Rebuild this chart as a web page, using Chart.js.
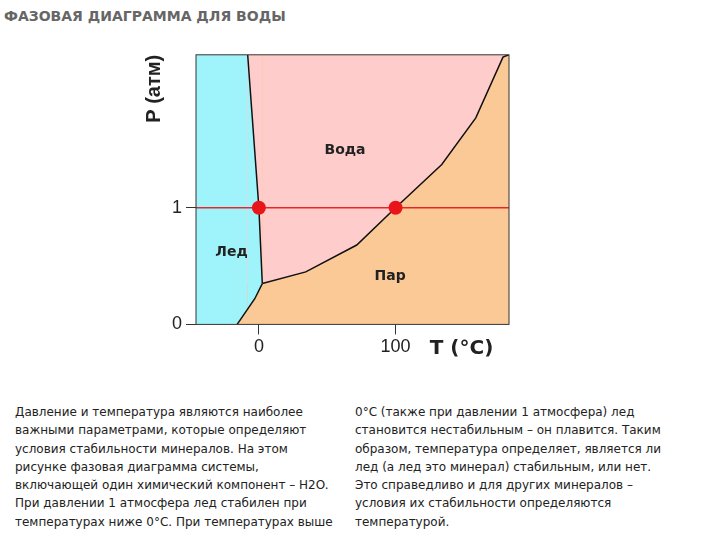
<!DOCTYPE html>
<html lang="ru">
<head>
<meta charset="UTF-8" />
<script src="https://cdn.jsdelivr.net/npm/chart.js@4.4.0/dist/chart.umd.min.js"></script>
<style>
  body { margin: 0; width: 720px; height: 540px; background: #fff; font-family: "DejaVu Sans", sans-serif; position: relative; overflow: hidden; }
  h1 { position: absolute; left: 4px; top: 8px; margin: 0; font-size: 14px; color: #666; font-weight: bold; }
  #wrap { position: absolute; left: 140px; top: 40px; width: 390px; height: 320px; }
  .col { position: absolute; top: 403px; font-size: 12px; line-height: 18.3px; color: #222; white-space: nowrap; }
</style>
</head>
<body>
<h1>ФАЗОВАЯ ДИАГРАММА ДЛЯ ВОДЫ</h1>
<div id="wrap"><canvas id="c"></canvas></div>
<div class="col" style="left:15px">Давление и температура являются наиболее<br>важными параметрами, которые определяют<br>условия стабильности минералов. На этом<br>рисунке фазовая диаграмма системы,<br>включающей один химический компонент – H2O.<br>При давлении 1 атмосфера лед стабилен при<br>температурах ниже 0°C. При температурах выше</div>
<div class="col" style="left:355px">0°C (также при давлении 1 атмосфера) лед<br>становится нестабильным – он плавится. Таким<br>образом, температура определяет, является ли<br>лед (а лед это минерал) стабильным, или нет.<br>Это справедливо и для других минералов –<br>условия их стабильности определяются<br>температурой.</div>
<script>
const tMin = -46, tMax = 183, pMax = 2.31;
const xTicks = [0, 100];
const yTicks = [0, 1];
// ice field: upper edge (top, then melting curve) and lower edge (bottom, then sublimation curve)
const iceTopT = [-46, -8.2, 0, 2.5];
const iceTopP = [2.31, 2.31, 1, 0.35];
const iceLowT = [-46, -15.9, -3, 2.5];
const iceLowP = [0, 0, 0.22, 0.35];
// liquid/vapour curve
const vapT = [-46, 2.5, 34.3, 71.6, 100, 133.8, 158.7, 178.6, 183];
const vapP = [0.35, 0.35, 0.45, 0.68, 1, 1.37, 1.77, 2.29, 2.31];
const triple = [{ x: 0, y: 1 }, { x: 100, y: 1 }];
const labels = [
  { text: "Вода", x: 63, y: 1.49 },
  { text: "Лед", x: -20, y: 0.62 },
  { text: "Пар", x: 96, y: 0.41 },
];

const pts = (xs, ys) => xs.map((x, i) => ({ x, y: ys[i] }));
const hideFirst = { borderColor: c => (c.p0DataIndex === 0 ? "rgba(0,0,0,0)" : "#111") };

const bgPlugin = {
  id: "bg",
  beforeDatasetsDraw(chart) {
    const { ctx, chartArea: a } = chart;
    ctx.save();
    ctx.fillStyle = "#fbc996";
    ctx.fillRect(a.left, a.top, a.width, a.height);
    ctx.restore();
  },
  afterDatasetsDraw(chart) {
    const { ctx, chartArea: a, scales } = chart;
    ctx.save();
    ctx.font = "bold 14px 'DejaVu Sans'";
    ctx.fillStyle = "#222";
    ctx.textAlign = "center";
    ctx.textBaseline = "middle";
    labels.forEach(l => ctx.fillText(l.text, scales.x.getPixelForValue(l.x), scales.y.getPixelForValue(l.y)));
    ctx.strokeStyle = "#333";
    ctx.lineWidth = 1;
    ctx.strokeRect(a.left, a.top, a.width, a.height);
    ctx.font = "bold 20px 'DejaVu Sans'";
    ctx.textAlign = "left";
    ctx.fillText("T (°C)", scales.x.getPixelForValue(125), a.bottom + 24);
    ctx.restore();
  },
};

new Chart(document.getElementById("c"), {
  type: "scatter",
  data: {
    datasets: [
      { data: pts(vapT, vapP), order: 5, showLine: true, fill: "end", backgroundColor: "#ffcccc", borderWidth: 1.5, pointRadius: 0, segment: hideFirst },
      { data: pts(iceTopT, iceTopP), order: 4, showLine: true, fill: "+1", backgroundColor: "#9ff4fb", borderWidth: 1.5, pointRadius: 0, segment: hideFirst },
      { data: pts(iceLowT, iceLowP), order: 3, showLine: true, fill: false, borderWidth: 1.5, pointRadius: 0, segment: hideFirst },
      { data: [{ x: tMin, y: 1 }, { x: tMax, y: 1 }], order: 2, showLine: true, borderColor: "#e8262a", borderWidth: 1.5, pointRadius: 0 },
      { data: triple, order: 1, pointRadius: 7, pointBackgroundColor: "#e8161a", pointBorderWidth: 0 },
    ],
  },
  options: {
    responsive: true, maintainAspectRatio: false, animation: false,
    layout: { padding: { top: 11, right: 21 } },
    plugins: { legend: { display: false }, tooltip: { enabled: false } },
    scales: {
      x: {
        min: tMin, max: tMax,
        afterBuildTicks: s => { s.ticks = xTicks.map(v => ({ value: v })); },
        grid: { display: true, drawOnChartArea: false, tickLength: 10, color: "#333" },
        border: { display: false },
        ticks: { color: "#222", font: { size: 18 }, padding: 2 },
      },
      y: {
        min: 0, max: pMax,
        afterBuildTicks: s => { s.ticks = yTicks.map(v => ({ value: v })); },
        grid: { display: true, drawOnChartArea: false, tickLength: 10, color: "#333" },
        border: { display: false },
        ticks: { color: "#222", font: { size: 18 }, padding: 4 },
        title: { display: true, text: "P (атм)", align: "end", color: "#222", font: { size: 20, weight: "bold" }, padding: 2 },
      },
    },
  },
  plugins: [bgPlugin],
});
</script>
</body>
</html>
